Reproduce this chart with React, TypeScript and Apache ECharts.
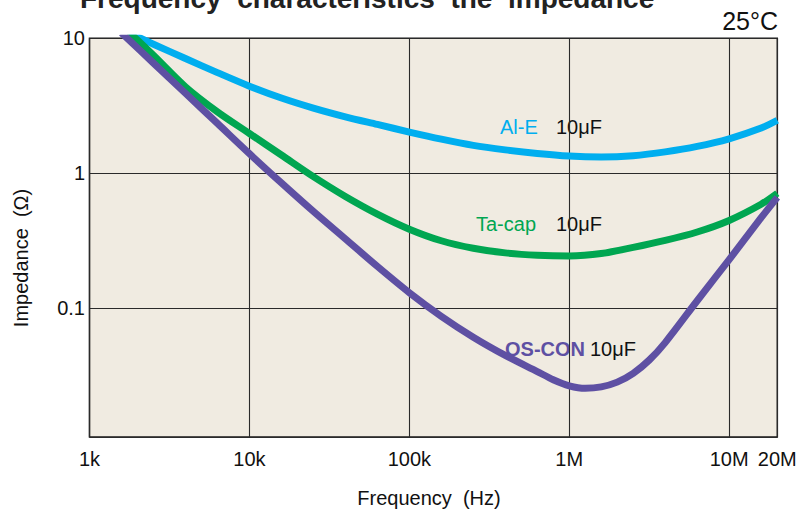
import React, { useEffect, useRef } from "react";
import * as echarts from "echarts";

// Frequency (Hz) and impedance (Ω)
const alEFreq = [1778, 2512, 3981, 6310, 10000, 15850, 25120, 39810, 63100, 100000, 158500, 251200, 398100, 631000, 1000000, 1585000, 2512000, 3981000, 6310000, 10000000, 15850000, 20000000];
const alEZ = [10.96, 9.04, 7.08, 5.57, 4.42, 3.61, 3.04, 2.62, 2.3, 2.02, 1.79, 1.61, 1.49, 1.4, 1.34, 1.32, 1.35, 1.44, 1.58, 1.8, 2.16, 2.47];

const taFreq = [1778, 2512, 3981, 6310, 10000, 15850, 25120, 39810, 63100, 100000, 158500, 251200, 398100, 631000, 1000000, 1585000, 2512000, 3981000, 6310000, 10000000, 15850000, 20000000];
const taZ = [11.04, 7.48, 4.37, 2.85, 1.97, 1.365, 0.944, 0.673, 0.498, 0.385, 0.316, 0.278, 0.257, 0.247, 0.244, 0.254, 0.282, 0.318, 0.367, 0.447, 0.589, 0.711];

const osFreq = [1585, 2512, 3981, 6310, 10000, 15850, 25120, 39810, 63100, 100000, 158500, 251200, 398100, 631000, 794300, 1000000, 1259000, 1585000, 1995000, 2512000, 3162000, 3981000, 6310000, 10000000, 15850000, 20000000];
const osZ = [10.96, 6.55, 3.91, 2.34, 1.397, 0.848, 0.521, 0.326, 0.204, 0.1303, 0.0871, 0.061, 0.0447, 0.0339, 0.0295, 0.0266, 0.02547, 0.0261, 0.0283, 0.0329, 0.0412, 0.0556, 0.1135, 0.229, 0.468, 0.662];

const xTickLabels: Record<string, string> = { "3": "1k", "4": "10k", "5": "100k", "6": "1M", "7": "10M" };
const yTickLabels: Record<string, string> = { "1": "10", "0": "1", "-1": "0.1" };

const FONT = "'Liberation Sans', Arial, Helvetica, sans-serif";

function pairs(f: number[], z: number[]) {
  return f.map((v, i) => [v, z[i]]);
}

export default function App() {
  const ref = useRef<HTMLDivElement>(null);
  useEffect(() => {
    if (!ref.current) return;
    const chart = echarts.init(ref.current, null, { renderer: "svg" });
    const text = (t: string, x: number, y: number, extra: any = {}) => ({
      type: "text",
      x,
      y,
      style: {
        text: t,
        fontFamily: FONT,
        fontSize: 20,
        fill: "#111",
        align: "left",
        verticalAlign: "middle",
        ...extra,
      },
    });
    const line = (name: string, f: number[], z: number[], color: string) => ({
      name,
      type: "line",
      data: pairs(f, z),
      showSymbol: false,
      smooth: 0.3,
      clip: true,
      lineStyle: { color, width: 7, cap: "butt", join: "round" },
    });
    chart.setOption({
      animation: false,
      grid: {
        left: 89.5,
        right: 23.7,
        top: 38.3,
        bottom: 73,
        show: true,
        backgroundColor: "#f0ebe1",
        borderColor: "#1a1a1a",
        borderWidth: 1.5,
        outerBoundsMode: "none",
      },
      xAxis: {
        type: "log",
        logBase: 10,
        min: 1000,
        max: 20000000,
        axisLine: { show: false },
        axisTick: { show: false },
        splitLine: { show: true, lineStyle: { color: "#2a2a2a", width: 1.1 } },
        axisLabel: {
          margin: 12,
          fontFamily: FONT,
          fontSize: 20,
          color: "#111",
          formatter: (v: number) => {
            const l = Math.log10(v);
            if (Math.abs(v - 20000000) < 1) return "20M";
            if (Math.abs(l - Math.round(l)) < 1e-6) return xTickLabels[String(Math.round(l))] || "";
            return "";
          },
        },
      },
      yAxis: {
        type: "log",
        logBase: 10,
        min: 0.0111,
        max: 10,
        axisLine: { show: false },
        axisTick: { show: false },
        splitLine: { show: true, lineStyle: { color: "#2a2a2a", width: 1.1 } },
        axisLabel: {
          margin: 4.5,
          fontFamily: FONT,
          fontSize: 20,
          color: "#111",
          formatter: (v: number) => {
            const l = Math.log10(v);
            if (Math.abs(l - Math.round(l)) < 1e-6) return yTickLabels[String(Math.round(l))] || "";
            return "";
          },
        },
      },
      series: [
        line("Al-E", alEFreq, alEZ, "#00aeef"),
        line("Ta-cap", taFreq, taZ, "#00a651"),
        line("OS-CON", osFreq, osZ, "#5e50a3"),
      ],
      graphic: [
        text("Frequency  characteristics  the  impedance", 80, -1.2, { fontSize: 28, fontWeight: "bold", fill: "#222" }),
        text("25°C", 778, 21, { fontSize: 25, align: "right", fill: "#111" }),
        text("Al-E", 500, 127, { fill: "#00aeef" }),
        text("10μF", 556, 127),
        text("Ta-cap", 476, 223.5, { fill: "#00a651" }),
        text("10μF", 556, 223.5),
        text("OS-CON", 505, 349, { fill: "#5e50a3", fontWeight: "bold" }),
        text("10μF", 590, 349),
        text("Frequency  (Hz)", 429, 498, { align: "center" }),
        {
          type: "text",
          x: 21,
          y: 258,
          rotation: Math.PI / 2,
          style: {
            text: "Impedance  (Ω)",
            fontFamily: FONT,
            fontSize: 20,
            fill: "#111",
            align: "center",
            verticalAlign: "middle",
          },
        },
      ],
    });
    return () => chart.dispose();
  }, []);
  return <div ref={ref} style={{ width: 801, height: 510, position: "absolute", left: 0, top: 0 }} />;
}
